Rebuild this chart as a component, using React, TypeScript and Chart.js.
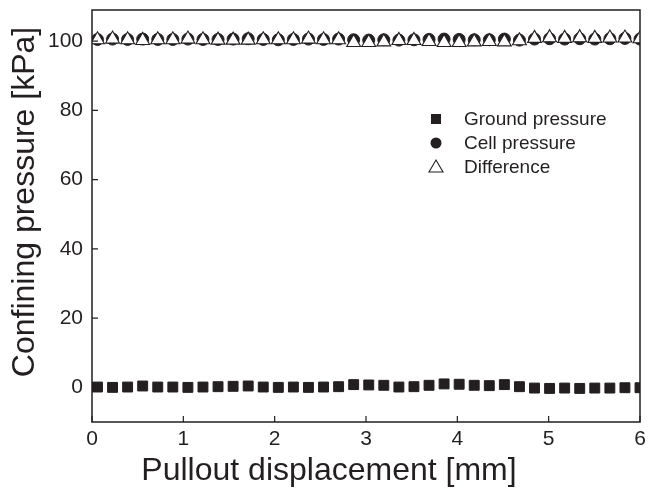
import React, { useEffect, useRef } from 'react';
import { Chart, registerables } from 'chart.js';

Chart.register(...registerables);

const displacement = [0.06, 0.225, 0.39, 0.555, 0.72, 0.885, 1.05, 1.215, 1.38, 1.545, 1.71, 1.875, 2.04, 2.205, 2.37, 2.535, 2.7, 2.865, 3.03, 3.195, 3.36, 3.525, 3.69, 3.855, 4.02, 4.185, 4.35, 4.515, 4.68, 4.845, 5.01, 5.175, 5.34, 5.505, 5.67, 5.835, 6.0];
const groundPressure = [0.1, 0.0, 0.1, 0.4, 0.1, 0.1, 0.0, 0.1, 0.2, 0.3, 0.4, 0.1, 0.0, 0.1, 0.0, 0.1, 0.2, 0.8, 0.7, 0.6, 0.1, 0.2, 0.6, 1.0, 0.9, 0.6, 0.5, 0.8, 0.2, -0.2, -0.3, -0.2, -0.3, -0.2, -0.2, -0.1, -0.1];
const cellPressure = [100.5, 100.6, 100.5, 100.6, 100.5, 100.5, 100.6, 100.5, 100.5, 100.6, 100.7, 100.5, 100.4, 100.5, 100.6, 100.5, 100.6, 100.4, 100.3, 100.4, 100.3, 100.4, 100.5, 100.6, 100.5, 100.4, 100.4, 100.6, 100.3, 100.6, 100.7, 100.6, 100.7, 100.6, 100.7, 100.8, 100.6];
const difference = [100.4, 100.6, 100.4, 100.2, 100.4, 100.4, 100.6, 100.4, 100.3, 100.3, 100.3, 100.4, 100.4, 100.4, 100.6, 100.4, 100.4, 99.6, 99.6, 99.8, 100.2, 100.2, 99.9, 99.6, 99.6, 99.8, 99.9, 99.8, 100.1, 100.8, 101.0, 100.8, 101.0, 100.8, 100.9, 100.9, 100.7];

const seriesNames = ['Ground pressure', 'Cell pressure', 'Difference'];
const xTicks = [0, 1, 2, 3, 4, 5, 6];
const yTicks = [0, 20, 40, 60, 80, 100];
const xTitle = 'Pullout displacement [mm]';
const yTitle = 'Confining pressure [kPa]';

const INK = '#231f20';
const FONT = "'Liberation Sans', Arial, Helvetica, sans-serif";

const pts = (ys: number[]) => displacement.map((x, i) => ({ x, y: ys[i] }));

const framePlugin = {
  id: 'frameTicks',
  afterDatasetsDraw(chart: any) {
    const { ctx, chartArea: a, scales } = chart;
    ctx.save();
    ctx.strokeStyle = INK;
    ctx.lineWidth = 1.5;
    ctx.strokeRect(a.left, a.top, a.right - a.left, a.bottom - a.top);
    ctx.lineWidth = 1.2;
    ctx.beginPath();
    xTicks.forEach((v) => {
      const px = scales.x.getPixelForValue(v);
      ctx.moveTo(px, a.bottom);
      ctx.lineTo(px, a.bottom - 6);
    });
    yTicks.forEach((v) => {
      const py = scales.y.getPixelForValue(v);
      ctx.moveTo(a.left, py);
      ctx.lineTo(a.left + 6, py);
    });
    ctx.stroke();
    ctx.restore();
  },
};

const titlesPlugin = {
  id: 'axisTitles',
  afterDraw(chart: any) {
    const { ctx } = chart;
    ctx.save();
    ctx.fillStyle = INK;
    ctx.font = `32px ${FONT}`;
    ctx.textAlign = 'center';
    ctx.textBaseline = 'alphabetic';
    ctx.fillText(xTitle, 329, 480);
    ctx.translate(34, 202);
    ctx.rotate(-Math.PI / 2);
    ctx.fillText(yTitle, 0, 0);
    ctx.restore();
  },
};

const legendPlugin = {
  id: 'insideLegend',
  afterDraw(chart: any) {
    const { ctx } = chart;
    const x0 = 436;
    const y0 = 119;
    const dy = 24;
    ctx.save();
    ctx.fillStyle = INK;
    ctx.strokeStyle = INK;
    ctx.font = `19px ${FONT}`;
    ctx.textBaseline = 'middle';
    seriesNames.forEach((name, i) => {
      const y = y0 + i * dy;
      ctx.beginPath();
      if (i === 0) {
        ctx.fillRect(x0 - 5, y - 5, 10, 10);
      } else if (i === 1) {
        ctx.arc(x0, y, 5.5, 0, Math.PI * 2);
        ctx.fill();
      } else {
        ctx.lineWidth = 1.1;
        ctx.moveTo(x0, y - 7);
        ctx.lineTo(x0 + 7, y + 5);
        ctx.lineTo(x0 - 7, y + 5);
        ctx.closePath();
        ctx.stroke();
      }
      ctx.fillText(name, x0 + 28, y + 1);
    });
    ctx.restore();
  },
};

export default function App() {
  const ref = useRef<HTMLCanvasElement>(null);
  useEffect(() => {
    if (!ref.current) return;
    const chart = new Chart(ref.current, {
      type: 'scatter',
      data: {
        datasets: [
          {
            label: seriesNames[0],
            data: pts(groundPressure),
            pointStyle: 'rect',
            pointRadius: 7,
            backgroundColor: INK,
            borderColor: INK,
            borderWidth: 1,
            order: 3,
            clip: 0,
          },
          {
            label: seriesNames[1],
            data: pts(cellPressure),
            pointStyle: 'circle',
            pointRadius: 6,
            backgroundColor: INK,
            borderColor: INK,
            borderWidth: 1,
            order: 2,
            clip: 0,
          },
          {
            label: seriesNames[2],
            data: pts(difference),
            pointStyle: 'triangle',
            pointRadius: 8,
            backgroundColor: '#ffffff',
            borderColor: INK,
            borderWidth: 1.1,
            order: 1,
            clip: 0,
          },
        ],
      },
      options: {
        responsive: false,
        animation: false,
        layout: { padding: { top: 10, right: 18, left: 0, bottom: 0 } },
        plugins: { legend: { display: false }, tooltip: { enabled: false } },
        scales: {
          x: {
            type: 'linear',
            min: 0,
            max: 6,
            afterBuildTicks: (s: any) => { s.ticks = xTicks.map((v) => ({ value: v })); },
            afterFit: (s: any) => { s.height = 72; s.paddingLeft = 0; s.paddingRight = 0; },
            grid: { display: false, drawTicks: false },
            border: { display: false },
            ticks: { color: INK, font: { family: FONT, size: 21 }, padding: 5, maxRotation: 0 },
          },
          y: {
            type: 'linear',
            min: -10,
            max: 109,
            afterBuildTicks: (s: any) => { s.ticks = yTicks.map((v) => ({ value: v })); },
            afterFit: (s: any) => { s.width = 92; s.paddingTop = 0; s.paddingBottom = 0; },
            grid: { display: false, drawTicks: false },
            border: { display: false },
            ticks: { color: INK, font: { family: FONT, size: 21 }, padding: 9 },
          },
        },
      },
      plugins: [framePlugin, legendPlugin, titlesPlugin],
    });
    return () => chart.destroy();
  }, []);
  return (
    <div style={{ position: 'fixed', left: 0, top: 0, width: 658, height: 494, background: '#fff' }}>
      <canvas ref={ref} width={658} height={494} style={{ display: 'block' }} />
    </div>
  );
}
